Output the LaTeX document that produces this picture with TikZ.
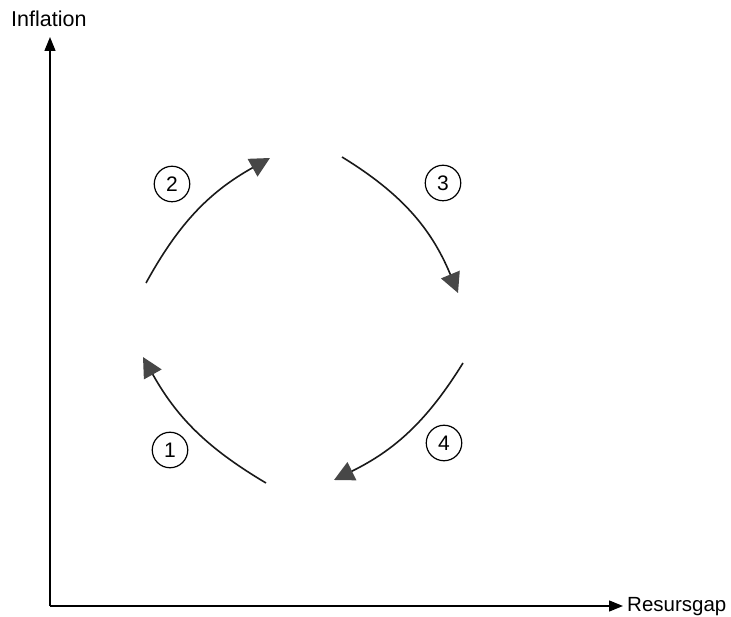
\documentclass[tikz,border=0pt]{standalone}
\usepackage{fontspec}
\setmainfont{Liberation Sans}
\usetikzlibrary{arrows.meta}
\definecolor{headgray}{HTML}{474747}
\tikzset{
  axisline/.style={line width=1.4pt, draw=black, -{Triangle[length=14pt,width=11pt]}},
  cycarc/.style={line width=1.6pt, draw=black!90, -{Triangle[length=20pt,width=20pt,fill=headgray,color=headgray]}},
  numcirc/.style={circle, draw=black, line width=1.2pt, minimum size=35.5pt, inner sep=0pt, font=\fontsize{21}{21}\selectfont},
  axlabel/.style={inner sep=0pt, font=\fontsize{21.5}{22}\selectfont}
}
\begin{document}
\begin{tikzpicture}[x=1pt,y=1pt]
\useasboundingbox (0,0) rectangle (731,616);
% axes
\coordinate (O) at (50,10);
\coordinate (Ytip) at (50,579);
\coordinate (Xtip) at (623,10);
\draw[axisline] (O) -- (Ytip);
\draw[axisline] (O) -- (Xtip);
\node[axlabel, anchor=base west] (ylab) at (11,589) {Inflation};
\node[axlabel, anchor=base west, font=\fontsize{20.5}{22}\selectfont] (xlab) at (627,4.5) {Resursgap};
% cycle end points
\coordinate (a1s) at (266,133);
\coordinate (a1e) at (143,259);
\coordinate (a2s) at (146,333);
\coordinate (a2e) at (270,458);
\coordinate (a3s) at (342,459);
\coordinate (a3e) at (458,323);
\coordinate (a4s) at (463,253);
\coordinate (a4e) at (334,136);
\draw[cycarc] (a1s) to[bend left=15] (a1e);
\draw[cycarc] (a2s) to[bend left=16] (a2e);
\draw[cycarc] (a3s) to[bend left=18] (a3e);
\draw[cycarc] (a4s) to[bend left=16] (a4e);
% numbers
\node[numcirc] (n1) at (170,166) {1};
\node[numcirc] (n2) at (172,432) {2};
\node[numcirc] (n3) at (443,433) {3};
\node[numcirc] (n4) at (444,173) {4};
\end{tikzpicture}
\end{document}
